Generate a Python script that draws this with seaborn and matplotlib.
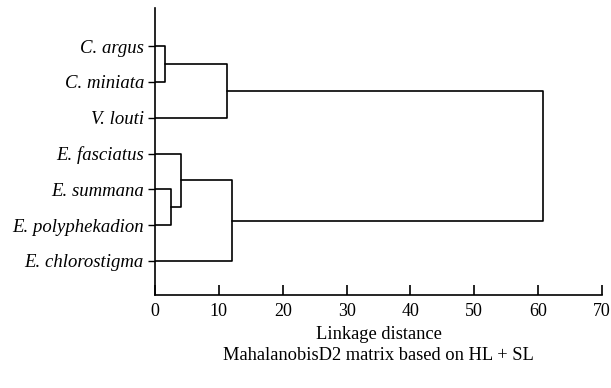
import matplotlib
matplotlib.use("Agg")
import matplotlib.pyplot as plt
import seaborn as sns
import pandas as pd

# ---- data ----
leaf_labels = ["C. argus", "C. miniata", "V. louti", "E. fasciatus",
               "E. summana", "E. polyphekadion", "E. chlorostigma"]
merge_names = ["n1", "n2", "n3", "n4", "n5", "n6"]
merge_left = ["C. argus", "n1", "E. summana", "E. fasciatus", "n4", "n2"]
merge_right = ["C. miniata", "V. louti", "E. polyphekadion", "n3", "E. chlorostigma", "n5"]
merge_height = [1.55, 11.3, 2.45, 4.0, 12.1, 60.8]
x_ticks = [0, 10, 20, 30, 40, 50, 60, 70]
x_label = "Linkage distance\nMahalanobisD2 matrix based on HL + SL"

# ---- build dendrogram segments ----
pos = {name: float(i) for i, name in enumerate(leaf_labels)}
height = {name: 0.0 for name in leaf_labels}
rows = []
for k, (nm, a, b, h) in enumerate(zip(merge_names, merge_left, merge_right, merge_height)):
    ya, yb = pos[a], pos[b]
    xa, xb = height[a], height[b]
    for x, y in [(xa, ya), (h, ya), (h, yb), (xb, yb)]:
        rows.append({"x": x, "y": y, "seg": k})
    pos[nm] = (ya + yb) / 2
    height[nm] = h
df = pd.DataFrame(rows)

sns.set_style("ticks")
plt.rcParams["font.family"] = ["Liberation Serif", "DejaVu Serif"]
plt.rcParams["text.color"] = "black"
plt.rcParams["axes.labelcolor"] = "black"
plt.rcParams["xtick.color"] = "black"
plt.rcParams["ytick.color"] = "black"

fig = plt.figure(figsize=(6.11, 3.88), dpi=100)
ax = fig.add_axes([0.2537, 0.2397, 0.7316, 0.7393])
sns.lineplot(data=df, x="x", y="y", units="seg", estimator=None, sort=False,
             color="black", linewidth=1.2, ax=ax, legend=False)

ax.set_xlim(0, 70)
ax.set_ylim(6.95, -1.06)
ax.set_xticks(x_ticks)
ax.set_xticklabels([str(t) for t in x_ticks], fontsize=13)
ax.set_yticks(range(len(leaf_labels)))
ax.set_yticklabels(leaf_labels, fontsize=13.5, style="italic")
ax.tick_params(axis="x", direction="in", length=7, width=1.2, pad=6,
               colors="black", labelcolor="black")
ax.tick_params(axis="y", direction="out", length=5, width=1.0, pad=3,
               colors="black", labelcolor="black")
ax.set_xlabel(x_label, fontsize=13.3, linespacing=1.3, labelpad=4, color="black")
ax.set_ylabel("")
sns.despine(ax=ax)
for s in ["left", "bottom"]:
    ax.spines[s].set_linewidth(1.2)
    ax.spines[s].set_color("black")

fig.savefig("out.png", dpi=100)
